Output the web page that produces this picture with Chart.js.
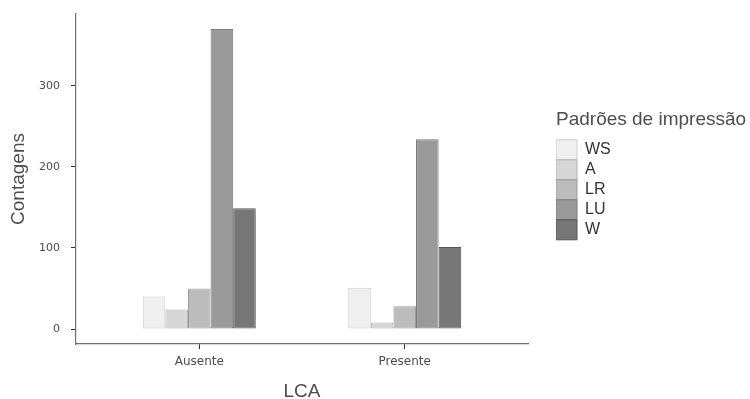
<!DOCTYPE html>
<html lang="pt">
<head>
<meta charset="utf-8">
<title>Contagens por LCA</title>
<script src="https://cdn.jsdelivr.net/npm/chart.js@4.4.1/dist/chart.umd.min.js"></script>
<style>
  html, body { margin: 0; padding: 0; background: #fff; }
  #wrap { width: 750px; height: 399px; }
</style>
</head>
<body>
<div id="wrap"><canvas id="lcaChart" width="750" height="399"></canvas></div>
<script>
// Contagens de padrões de impressão, por presença de LCA

const categories = ['Ausente', 'Presente'];
const patterns   = ['WS', 'A', 'LR', 'LU', 'W'];

// one array per pattern, values for [Ausente, Presente]
const countsWS = [40, 51];
const countsA  = [24, 8];
const countsLR = [50, 28];
const countsLU = [370, 234];
const countsW  = [149, 101];

const yTicks = [0, 100, 200, 300];

const seriesValues = [countsWS, countsA, countsLR, countsLU, countsW];
const fills   = ['#efefef', '#d6d6d6', '#bcbcbc', '#9a9a9a', '#777777'];
const borders = ['#cdcdcd', '#b3b3b3', '#9b9b9b', '#7a7a7a', '#555555'];

const SANS = "'Liberation Sans', Arial, sans-serif";
const TICK_FONT = "'DejaVu Sans', sans-serif";

// legend sits right of the plot with a gap, and its title is wider than the items
const legendGap = {
  id: 'legendGap',
  beforeLayout(chart) {
    const lg = chart.legend;
    if (!lg || lg.$patched) return;
    const fit = lg.fit;
    lg.fit = function () {
      fit.call(this);
      this.width = 222;
    };
    lg.$patched = true;
  },
  afterLayout(chart) {
    if (chart.legend) chart.legend.left += 28;
  }
};

const datasets = patterns.map((name, k) => ({
  label: name,
  data: seriesValues[k].map((v, i) => ({ x: i + 1, y: v })),
  backgroundColor: fills[k],
  borderColor: borders[k],
  borderWidth: 1,
  borderSkipped: false
}));

new Chart(document.getElementById('lcaChart'), {
  type: 'bar',
  data: { datasets },
  plugins: [legendGap],
  options: {
    responsive: false,
    animation: false,
    layout: { padding: { top: 14, left: 0, right: 0, bottom: 0 } },
    datasets: { bar: { categoryPercentage: 0.55, barPercentage: 1 } },
    plugins: {
      tooltip: { enabled: false },
      legend: {
        position: 'right',
        align: 'start',
        title: {
          display: true,
          text: 'Padrões de impressão',
          position: 'start',
          color: '#4d4d4d',
          font: { family: SANS, size: 19 },
          padding: { top: 96, bottom: 7 }
        },
        labels: {
          boxWidth: 21,
          boxHeight: 20,
          padding: 0,
          color: '#333',
          font: { family: SANS, size: 16 }
        }
      }
    },
    scales: {
      x: {
        type: 'linear',
        min: 0.4,
        max: 2.6,
        offset: false,
        afterBuildTicks: s => { s.ticks = categories.map((c, i) => ({ value: i + 1 })); },
        afterFit: s => { s.height = 55; },
        grid: { offset: false, drawOnChartArea: false, drawTicks: true, tickLength: 5, tickColor: '#333', lineWidth: 1 },
        border: { display: true, color: '#6e6e6e', width: 1.2 },
        ticks: {
          padding: 6,
          color: '#4d4d4d',
          font: { family: TICK_FONT, size: 12 },
          callback: (v, i) => categories[i]
        },
        title: {
          display: true,
          text: 'LCA',
          color: '#4d4d4d',
          font: { family: SANS, size: 19 },
          padding: { top: 0, bottom: -4 }
        }
      },
      y: {
        min: -18.5,
        max: 388.5,
        afterBuildTicks: s => { s.ticks = yTicks.map(v => ({ value: v })); },
        afterFit: s => {
          s.width = 76;
          s.paddingTop = 0;
          s.paddingBottom = 0;
        },
        grid: { drawOnChartArea: false, drawTicks: true, tickLength: 5, tickColor: '#333', lineWidth: 1 },
        border: { display: true, color: '#6e6e6e', width: 1.2 },
        ticks: {
          padding: 11,
          color: '#4d4d4d',
          font: { family: TICK_FONT, size: 11 }
        },
        title: {
          display: true,
          text: 'Contagens',
          color: '#4d4d4d',
          font: { family: SANS, size: 19 },
          padding: { top: 7, bottom: 0 }
        }
      }
    }
  }
});
</script>
</body>
</html>
